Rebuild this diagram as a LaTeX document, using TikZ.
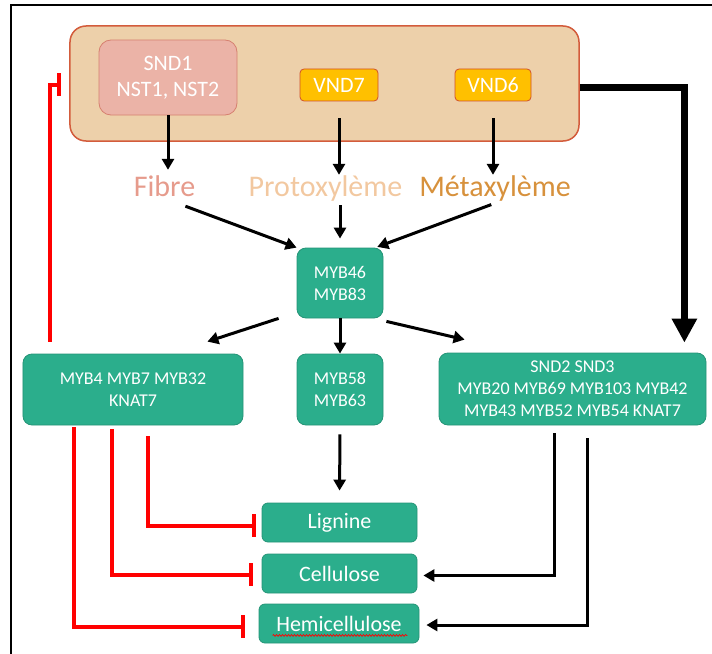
\documentclass[tikz,border=0pt]{standalone}
\usepackage{fontspec}
\setmainfont{Carlito}
\usetikzlibrary{arrows.meta,decorations.pathmorphing}

\begin{document}
\begin{tikzpicture}[x=1bp,y=-1bp,line join=miter]
  % Colors
    \definecolor{boxgreen}{RGB}{43,174,140}
    \definecolor{walltan}{RGB}{237,208,170}
    \definecolor{walledge}{RGB}{211,92,60}
    \definecolor{sndpink}{RGB}{235,179,167}
    \definecolor{sndedge}{RGB}{214,128,112}
    \definecolor{vndyellow}{RGB}{255,192,0}
    \definecolor{vndedge}{RGB}{208,80,42}
    \definecolor{fibrecolor}{RGB}{230,155,140}
    \definecolor{protocolor}{RGB}{242,200,160}
    \definecolor{metacolor}{RGB}{215,145,60}

  % Styles
    \tikzstyle{genebox}=[draw=boxgreen!85!black, fill=boxgreen, rounded corners=9bp,
      line width=0.8bp, text=white, align=center, inner sep=0pt,
      font=\fontsize{18bp}{22bp}\selectfont]
    \tikzstyle{wallbox}=[genebox, font=\fontsize{22bp}{26bp}\selectfont]
    \tikzstyle{tissue}=[anchor=base, inner sep=0pt, text height=21bp, text depth=7bp,
      font=\fontsize{30bp}{36bp}\selectfont]
    \tikzstyle{arr}=[line width=3bp, -{Triangle[length=11bp,width=12bp]}]
    \tikzstyle{bigarr}=[line width=7bp, -{Triangle[length=24bp,width=24bp]}]
    \tikzstyle{inhib}=[red, line width=4bp, -{Bar[width=23bp]}]

  % The graphic
    \useasboundingbox (0,0) rectangle (712,654);
    \draw[line width=2bp] (712,5) -- (11,5) -- (11,654);

  % NAC box
    \node[wallbox, draw=walledge, fill=walltan, rounded corners=16bp, line width=1.5bp,
      minimum width=509bp, minimum height=115bp] (cellwall) at (324.5,83.5) {};
    \node[wallbox, draw=sndedge, fill=sndpink, rounded corners=12bp,
      minimum width=138bp, minimum height=75bp] (snd) at (168,77.5) {SND1\\NST1, NST2};
    \node[wallbox, draw=vndedge, fill=vndyellow, rounded corners=4bp,
      minimum width=78bp, minimum height=32bp] (vndseven) at (339,85) {VND7};
    \node[wallbox, draw=vndedge, fill=vndyellow, rounded corners=4bp,
      minimum width=76bp, minimum height=32bp] (vndsix) at (493,85) {VND6};

  % tissues
    \node[tissue, text=fibrecolor] (fibre) at (164.5,196) {Fibre};
    \node[tissue, text=protocolor] (proto) at (325.5,196) {Protoxylème};
    \node[tissue, text=metacolor] (meta) at (495,196) {Métaxylème};

  % MYB boxes
    \node[genebox, minimum width=86bp, minimum height=70bp] (myb46) at (340,283) {MYB46\\MYB83};
    \node[genebox, minimum width=220bp, minimum height=71bp] (leftbox) at (133,389.5)
      {MYB4 MYB7 MYB32\\KNAT7};
    \node[genebox, minimum width=86bp, minimum height=71bp] (myb58) at (340,389.5) {MYB58\\MYB63};
    \node[genebox, minimum width=267bp, minimum height=72bp] (rightbox) at (572.5,389)
      {SND2 SND3\\MYB20 MYB69 MYB103 MYB42\\MYB43 MYB52 MYB54 KNAT7};

  % polymers
    \node[genebox, font=\fontsize{22bp}{26bp}\selectfont, rounded corners=6bp,
      minimum width=155bp, minimum height=39bp] (lignine) at (339.5,522.5) {Lignine};
    \node[genebox, font=\fontsize{22bp}{26bp}\selectfont, rounded corners=6bp,
      minimum width=155bp, minimum height=39bp] (cellulose) at (339.5,573.5) {Cellulose};
    \node[genebox, font=\fontsize{22bp}{26bp}\selectfont, rounded corners=6bp,
      minimum width=160bp, minimum height=39bp] (hemi) at (339,623.5) {Hemicellulose};
    \draw[red, line width=0.7bp, decorate, decoration={snake, amplitude=0.9bp, segment length=3bp}]
      ([xshift=14bp,yshift=8bp]hemi.south west) -- ([xshift=-12bp,yshift=8bp]hemi.south east);

  % activation
    \draw[arr, shorten >=5bp] (snd.south) -- (snd.south |- fibre.north);
    \draw[arr, shorten <=17bp] (vndseven.south) -- (vndseven.south |- proto.north);
    \draw[arr, shorten <=17bp] (vndsix.south) -- (vndsix.south |- meta.north);
    \draw[arr] ([xshift=-10bp,yshift=-3bp]fibre.south east) -- (myb46.north west);
    \draw[arr, shorten <=2bp, shorten >=9bp] (myb46.north |- proto.south) -- (myb46.north);
    \draw[arr, shorten <=4bp, shorten >=2bp] (meta.south) -- ([xshift=-8bp]myb46.north east);
    \draw[arr] ([xshift=-18bp]myb46.south west) -- ([xshift=-36bp,yshift=12bp]leftbox.north east);
    \draw[arr] (myb46.south) -- (myb58.north);
    \draw[arr] ([xshift=3bp,yshift=-3bp]myb46.south east) -- ([xshift=26bp,yshift=13bp]rightbox.north west);
    \draw[arr, shorten <=9bp, shorten >=12bp] (myb58.south) -- (lignine.north);
    \draw[bigarr] ([yshift=-4bp]cellwall.east) -| ([xshift=-22bp,yshift=10bp]rightbox.north east);
    \draw[arr] ([xshift=116bp,yshift=-8bp]rightbox.south west) |- ([xshift=6bp,yshift=-2bp]cellulose.east);
    \draw[arr] ([xshift=149bp,yshift=-13bp]rightbox.south west) |- ([xshift=7bp,yshift=-1.5bp]hemi.east);

  % repression
    \draw[inhib] ([xshift=27bp,yshift=12bp]leftbox.north west) |- ([xshift=-8bp,yshift=-1.5bp]cellwall.west);
    \draw[inhib] ([xshift=125bp,yshift=-11bp]leftbox.south west) |- ([xshift=-6bp,yshift=-3bp]lignine.west);
    \draw[inhib] ([xshift=89bp,yshift=-4bp]leftbox.south west) |- ([xshift=-9bp,yshift=-1bp]cellulose.west);
    \draw[inhib] ([xshift=51bp,yshift=-2bp]leftbox.south west) |- ([xshift=-14bp,yshift=-3bp]hemi.west);
\end{tikzpicture}
\end{document}
